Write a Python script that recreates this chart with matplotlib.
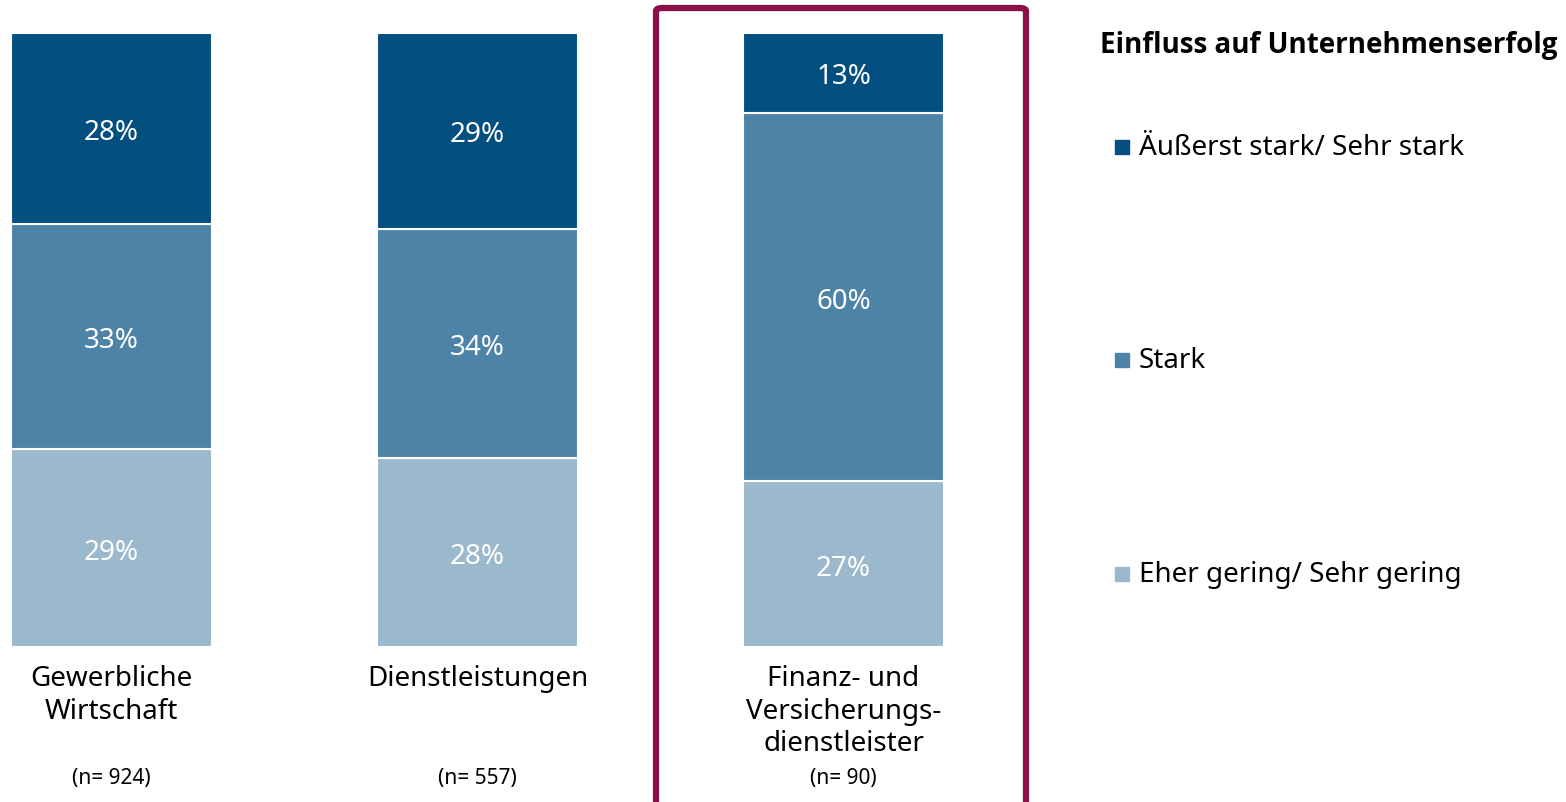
import numpy as np
import matplotlib.pyplot as plt
from matplotlib.patches import Rectangle, FancyBboxPatch

plt.rcParams['font.family'] = ['Noto Sans', 'DejaVu Sans']

categories = ["Gewerbliche\nWirtschaft", "Dienstleistungen", "Finanz- und\nVersicherungs-\ndienstleister"]
sample_sizes = [924, 557, 90]
series = ["Eher gering/ Sehr gering", "Stark", "Äußerst stark/ Sehr stark"]
eher_gering = [29, 28, 27]
stark = [33, 34, 60]
sehr_stark = [28, 29, 13]
legend_title = "Einfluss auf Unternehmenserfolg"

colors = ["#9ab9cc", "#4e83a8", "#034f80"]

W, H = 1566, 803
fig = plt.figure(figsize=(W / 100, H / 100), dpi=100)

# axes: bar bottom at px 648, top at px 34
ax = fig.add_axes([0, (H - 648) / H, 1, (648 - 34) / H])
step = 366.0
ax.set_xlim(-111.5 / step, (W - 111.5) / step)
ax.set_ylim(0, 1)
ax.axis('off')

vals = np.array([eher_gering, stark, sehr_stark], dtype=float)
totals = vals.sum(axis=0)
shares = vals / totals
x = np.arange(len(categories))
bottom = np.zeros(len(categories))
for k, name in enumerate(series):
    ax.bar(x, shares[k], width=201 / step, bottom=bottom, color=colors[k],
           edgecolor='white', linewidth=1.5)
    for i in range(len(categories)):
        ax.text(x[i], bottom[i] + shares[k][i] / 2, f"{vals[k][i]:.0f}%",
                ha='center', va='center_baseline', color='white', fontsize=20)
    bottom += shares[k]

tr = ax.get_xaxis_transform()
for i, cat in enumerate(categories):
    ax.text(x[i], -17 / 614, cat, transform=tr, ha='center', va='top',
            fontsize=20, linespacing=1.22, clip_on=False)
    ax.text(x[i], -131 / 614, f"(n= {sample_sizes[i]})", transform=tr,
            ha='center', va='center', fontsize=15, clip_on=False)

# highlight frame around third category
frame = FancyBboxPatch((656 / W, -0.05), (1026 - 656) / W, (H - 9) / H + 0.05,
                       boxstyle="round,pad=0,rounding_size=0.004",
                       transform=fig.transFigure, fill=False,
                       edgecolor="#8b0f4b", linewidth=4.5, clip_on=False)
fig.patches.append(frame)

# legend
fig.text(1100 / W, (H - 45) / H, legend_title, fontsize=20, fontweight='bold',
         family=['Open Sans', 'Lato', 'DejaVu Sans'], ha='left', va='center')
leg_y = [575, 361, 148]
for k, name in enumerate(series):
    yc = (H - leg_y[k]) / H
    fig.patches.append(Rectangle((1115 / W, yc - 7 / H), 14 / W, 14 / H,
                                 transform=fig.transFigure, color=colors[k]))
    fig.text(1139 / W, yc, name, fontsize=20, ha='left', va='center')

fig.savefig("out.png", dpi=100)
